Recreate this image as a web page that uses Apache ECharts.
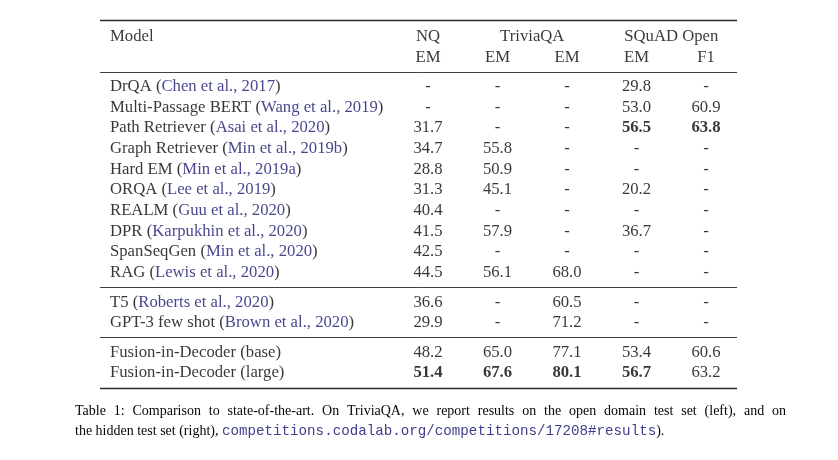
<!DOCTYPE html>
<html><head><meta charset="utf-8">
<script src="https://cdn.jsdelivr.net/npm/echarts@6/dist/echarts.min.js"></script>
<style>html,body{margin:0;padding:0;background:#fff}#c{width:838px;height:460px}</style>
</head><body><div id="c"></div>
<script>
// ---- data ----
const models = ['DrQA', 'Multi-Passage BERT', 'Path Retriever', 'Graph Retriever', 'Hard EM', 'ORQA', 'REALM', 'DPR', 'SpanSeqGen', 'RAG',
  'T5', 'GPT-3 few shot', 'Fusion-in-Decoder (base)', 'Fusion-in-Decoder (large)'];
const cites = ['Chen et al., 2017', 'Wang et al., 2019', 'Asai et al., 2020', 'Min et al., 2019b', 'Min et al., 2019a', 'Lee et al., 2019',
  'Guu et al., 2020', 'Karpukhin et al., 2020', 'Min et al., 2020', 'Lewis et al., 2020', 'Roberts et al., 2020', 'Brown et al., 2020', null, null];
const groups = [0, 0, 0, 0, 0, 0, 0, 0, 0, 0, 1, 1, 2, 2];
const nqEM = [null, null, 31.7, 34.7, 28.8, 31.3, 40.4, 41.5, 42.5, 44.5, 36.6, 29.9, 48.2, 51.4];
const tqaOpenEM = [null, null, null, 55.8, 50.9, 45.1, null, 57.9, null, 56.1, null, null, 65.0, 67.6];
const tqaHiddenEM = [null, null, null, null, null, null, null, null, null, 68.0, 60.5, 71.2, 77.1, 80.1];
const squadEM = [29.8, 53.0, 56.5, null, null, 20.2, null, 36.7, null, null, null, null, 53.4, 56.7];
const squadF1 = [null, 60.9, 63.8, null, null, null, null, null, null, null, null, null, 60.6, 63.2];
const boldCells = [[2, 4], [2, 5], [13, 1], [13, 2], [13, 3], [13, 4]]; // [row, column]
const groupHeaders = ['Model', 'NQ', 'TriviaQA', 'SQuAD Open'];
const subHeaders = ['', 'EM', 'EM', 'EM', 'EM', 'F1'];
const captionLine1 = 'Table 1: Comparison to state-of-the-art. On TriviaQA, we report results on the open domain test set (left), and on';
const captionLine2a = 'the hidden test set (right), ';
const captionUrl = 'competitions.codalab.org/competitions/17208#results';
const captionLine2b = ').';

// ---- layout ----
const valueCols = [nqEM, tqaOpenEM, tqaHiddenEM, squadEM, squadF1];
const X_MIN = -3.72, X_MAX = 5.446;
const MODEL_X = X_MIN;
const Y_MIN = -0.8, Y_MAX = 17.0;
const GROUP_GAP = 0.425;
const rowY = i => 2.4 + i + GROUP_GAP * groups[i];
const FONT = '"Liberation Serif", "Times New Roman", serif';
const MONO = '"Liberation Mono", "Courier New", monospace';
const FS = 16.7;
const CAP_FS = 14;
const INK = '#050505';
const CITE = '#15156e';
const URL_INK = '#40408c';
const CAPTION_WIDTH = 711; // justified first line width

// justify the first caption line: compute inter-word space width
const words = captionLine1.split(' ');
const mctx = document.createElement('canvas').getContext('2d');
mctx.font = CAP_FS + 'px ' + FONT;
const wordsW = words.reduce((s, w) => s + mctx.measureText(w).width, 0);
const spaceW = Math.max(3, (CAPTION_WIDTH - wordsW) / (words.length - 1));
const line1Rich = words.map(w => '{t|' + w + '}').join('{s|}');

const textPts = [];
// header
textPts.push({ value: [MODEL_X, 0], text: groupHeaders[0], align: 'left', offset: [10, 0] });
textPts.push({ value: [1, 0], text: groupHeaders[1], align: 'center' });
textPts.push({ value: [2.5, 0], text: groupHeaders[2], align: 'center' });
textPts.push({ value: [4.5, 0], text: groupHeaders[3], align: 'center' });
subHeaders.forEach((h, c) => { if (h) textPts.push({ value: [c, 1], text: h, align: 'center' }); });
// body
models.forEach((m, i) => {
  const txt = cites[i] ? `{n|${m} (}{c|${cites[i]}}{n|)}` : `{n|${m}}`;
  textPts.push({ value: [MODEL_X, rowY(i)], text: txt, align: 'left', offset: [10, 0] });
  valueCols.forEach((col, j) => {
    const v = col[i];
    const bold = boldCells.some(b => b[0] === i && b[1] === j + 1);
    textPts.push({ value: [j + 1, rowY(i)], text: v == null ? '-' : v.toFixed(1), align: 'center', bold });
  });
});

const ruleYs = [
  { y: Y_MIN, w: 1.4 },
  { y: 1.69, w: 0.9 },
  { y: (rowY(9) + rowY(10)) / 2, w: 0.9 },
  { y: (rowY(11) + rowY(12)) / 2, w: 0.9 },
  { y: Y_MAX - 0.02, w: 1.4 }
];

const chart = echarts.init(document.getElementById('c'), null, { renderer: 'canvas' });
chart.setOption({
  animation: false,
  backgroundColor: '#fff',
  grid: { left: 100, right: 101, top: 20.5, bottom: 71.5, containLabel: false },
  xAxis: { type: 'value', min: X_MIN, max: X_MAX, show: false },
  yAxis: { type: 'value', min: Y_MIN, max: Y_MAX, inverse: true, show: false },
  title: [{
    left: 75, top: 401, padding: 0,
    text: line1Rich + '\n{t|' + captionLine2a + '}{u|' + captionUrl + '}{t|' + captionLine2b + '}',
    textStyle: {
      fontFamily: FONT, fontSize: CAP_FS, fontWeight: 'normal', color: INK, lineHeight: 20,
      rich: {
        t: { fontFamily: FONT, fontSize: CAP_FS, color: INK, lineHeight: 20 },
        s: { width: spaceW, height: 10, lineHeight: 20 },
        u: { fontFamily: MONO, fontSize: 14.2, color: URL_INK, lineHeight: 20 }
      }
    }
  }],
  series: [{
    type: 'scatter',
    symbolSize: 1,
    itemStyle: { color: 'rgba(0,0,0,0)' },
    silent: true,
    clip: false,
    data: textPts.map(p => ({
      value: p.value,
      label: {
        show: true,
        position: 'inside',
        formatter: p.text,
        align: p.align,
        verticalAlign: 'middle',
        offset: p.offset || [0, 0],
        fontFamily: FONT,
        fontSize: FS,
        fontWeight: p.bold ? 'bold' : 'normal',
        color: INK,
        rich: {
          n: { fontFamily: FONT, fontSize: FS, color: INK },
          c: { fontFamily: FONT, fontSize: FS, color: CITE }
        }
      }
    })),
    markLine: {
      silent: true,
      symbol: ['none', 'none'],
      label: { show: false },
      animation: false,
      data: ruleYs.map(r => [
        { coord: [X_MIN, r.y], lineStyle: { color: '#2a2a2a', width: r.w, type: 'solid' } },
        { coord: [X_MAX, r.y] }
      ])
    }
  }]
});
</script></body></html>
